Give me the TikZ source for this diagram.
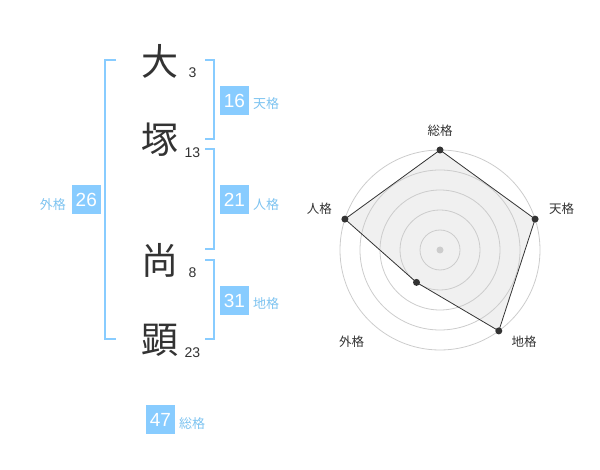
\documentclass[tikz,border=0pt]{standalone}
\usepackage{fontspec}
\setmainfont{Liberation Sans}
\newfontfamily\cjk{Noto Sans CJK JP}
\definecolor{boxblue}{HTML}{88CCFF}
\definecolor{lblblue}{HTML}{7DC3F0}
\definecolor{ink}{HTML}{333333}
\definecolor{ringgray}{HTML}{CCCCCC}
\definecolor{areafill}{HTML}{F0F0F0}
\tikzset{
  bigchar/.style={inner sep=0pt, text=ink, font=\cjk\fontsize{37}{37}\selectfont},
  stroke/.style={inner sep=0pt, text=ink, font=\fontsize{14}{14}\selectfont},
  valbox/.style={fill=boxblue, text=white, minimum size=29pt, inner sep=0pt, font=\fontsize{19}{19}\selectfont},
  kaku/.style={inner sep=0pt, text=lblblue, font=\cjk\fontsize{13}{13}\selectfont},
  bracket/.style={draw=boxblue, line width=2pt},
  ring/.style={draw=ringgray, line width=0.8pt},
  axislbl/.style={inner sep=0pt, text=ink, font=\cjk\fontsize{12.5}{12.5}\selectfont},
  pt/.style={circle, fill=ink, inner sep=0pt, minimum size=7pt},
}
\begin{document}
\begin{tikzpicture}[x=1pt,y=-1pt]
\useasboundingbox (0,0) rectangle (600,470);
% characters
\node[bigchar] (c1) at (160,61) {大};
\node[bigchar] (c2) at (160,140) {塚};
\node[bigchar] (c3) at (160,260) {尚};
\node[bigchar] (c4) at (160,340) {顕};
\node[stroke] (s1) at (192.5,72.7) {3};
\node[stroke] (s2) at (192.5,152.7) {13};
\node[stroke] (s3) at (192.5,272.7) {8};
\node[stroke] (s4) at (192.5,352.7) {23};
% brackets
\draw[bracket] (116,60) -- (105,60) -- (105,339.3) -- (116,339.3);
\draw[bracket] (205,60) -- (214.3,60) -- (214.3,139.3) -- (205,139.3);
\draw[bracket] (205,149.3) -- (214.3,149.3) -- (214.3,249.3) -- (205,249.3);
\draw[bracket] (205,260) -- (214.3,260) -- (214.3,339.3) -- (205,339.3);
% value boxes
\node[valbox] (ten) at (234.5,100.5) {16};
\node[kaku, anchor=west] (tenl) at (253,104) {天格};
\node[valbox] (jin) at (234.5,200) {21};
\node[kaku, anchor=west] (jinl) at (253,204.5) {人格};
\node[valbox] (chi) at (234.5,300.5) {31};
\node[kaku, anchor=west] (chil) at (253,304) {地格};
\node[valbox] (gai) at (86.3,200) {26};
\node[kaku, anchor=east] (gail) at (66,204.5) {外格};
\node[valbox] (sou) at (160.5,419.5) {47};
\node[kaku, anchor=west] (soul) at (179,423.5) {総格};
% radar
\coordinate (rc) at (440,250);
\coordinate (pS) at (440,150);
\coordinate (pT) at (535.1,219.1);
\coordinate (pC) at (498.8,330.9);
\coordinate (pG) at (416.5,282.4);
\coordinate (pJ) at (344.9,219.1);
\fill[areafill] (pS) -- (pT) -- (pC) -- (pG) -- (pJ) -- cycle;
\foreach \r in {20,40,60,80,100} \draw[ring] (rc) circle[radius=\r];
\draw[ink, line width=0.8pt, line join=round] (pS) -- (pT) -- (pC) -- (pG) -- (pJ) -- cycle;
\node[circle, fill=ringgray, inner sep=0pt, minimum size=7pt] (ctr) at (rc) {};
\node[pt] (dS) at (pS) {};
\node[pt] (dT) at (pT) {};
\node[pt] (dC) at (pC) {};
\node[pt] (dG) at (pG) {};
\node[pt] (dJ) at (pJ) {};
\node[axislbl] (lS) at (440,130.7) {総格};
\node[axislbl] (lT) at (561.7,208.3) {天格};
\node[axislbl] (lJ) at (319.3,208.3) {人格};
\node[axislbl] (lG) at (351.7,341.7) {外格};
\node[axislbl] (lC) at (524,341.7) {地格};
\end{tikzpicture}
\end{document}
